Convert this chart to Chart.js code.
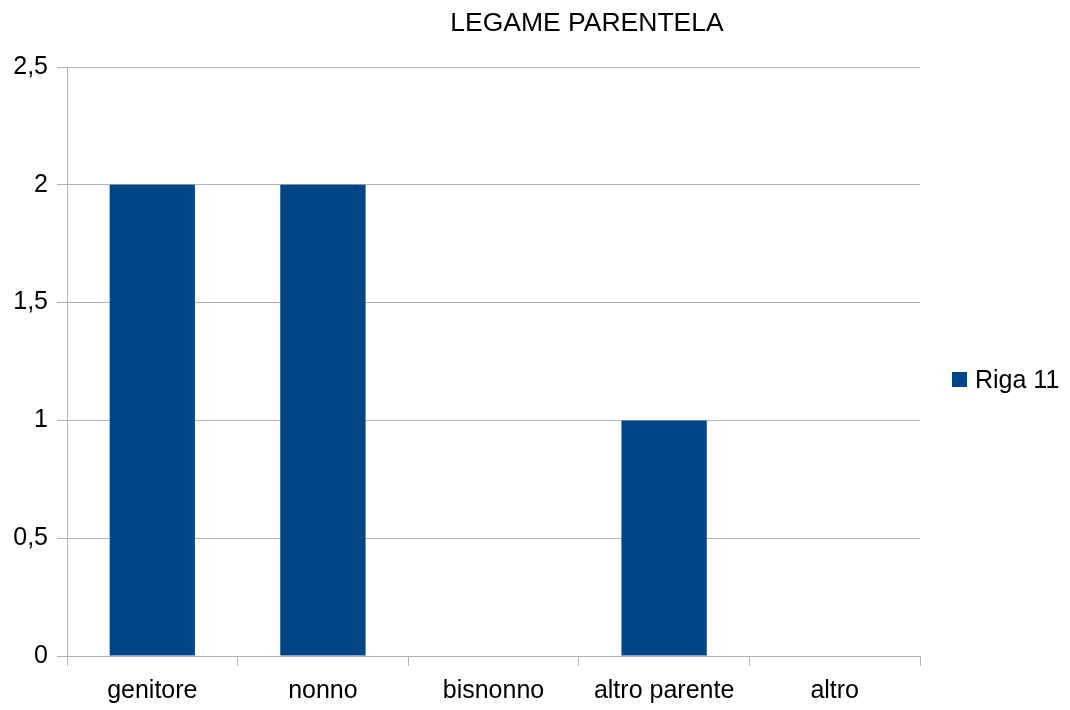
<!DOCTYPE html>
<html>
<head>
<meta charset="utf-8">
<script src="https://cdn.jsdelivr.net/npm/chart.js@4"></script>
<style>
    html, body { margin: 0; padding: 0; background: #ffffff; }
    canvas { display: block; }
</style>
</head>
<body>
<canvas id="chart" width="1070" height="710"></canvas>
<script>
const categories = ['genitore', 'nonno', 'bisnonno', 'altro parente', 'altro'];
const seriesName = 'Riga 11';
const seriesValues = [2, 2, 0, 1, 0];
const titleText = 'LEGAME PARENTELA';

const barColor = '#004586';
const gridColor = '#b3b3b3';
const font = 'Liberation Sans, Arial, sans-serif';
const fontSize = 25;

// titolo e legenda disegnati a mano per avere le posizioni giuste
const decorations = {
    id: 'decorations',
    afterDraw(chart) {
        const ctx = chart.ctx;
        ctx.save();
        ctx.fillStyle = '#000000';
        ctx.font = '26.5px ' + font;
        ctx.textAlign = 'center';
        ctx.textBaseline = 'middle';
        ctx.fillText(titleText, 587, 24);

        const ds = chart.data.datasets[0];
        ctx.fillStyle = ds.backgroundColor;
        ctx.fillRect(952, 372, 15, 15);
        ctx.fillStyle = '#000000';
        ctx.font = fontSize + 'px ' + font;
        ctx.textAlign = 'left';
        ctx.fillText(ds.label, 975, 381);
        ctx.restore();
    }
};

new Chart(document.getElementById('chart').getContext('2d'), {
    type: 'bar',
    data: {
        labels: categories,
        datasets: [{
            label: seriesName,
            data: seriesValues,
            backgroundColor: barColor,
            borderWidth: 0,
            barPercentage: 0.5,
            categoryPercentage: 1
        }]
    },
    options: {
        responsive: false,
        animation: false,
        layout: {
            padding: { left: 0, top: 67, right: 150, bottom: 0 }
        },
        plugins: {
            legend: { display: false },
            title: { display: false },
            tooltip: { enabled: false }
        },
        scales: {
            x: {
                offset: true,
                grid: {
                    offset: true,
                    drawOnChartArea: true,
                    color: (c) => (c.index === categories.length ? gridColor : 'rgba(0,0,0,0)'),
                    tickColor: gridColor,
                    tickLength: 10,
                    lineWidth: 1
                },
                border: { display: true, color: gridColor },
                ticks: {
                    color: '#000000',
                    font: { family: font, size: fontSize },
                    padding: 10,
                    maxRotation: 0
                },
                afterFit(scale) { scale.height = 54; }
            },
            y: {
                min: 0,
                max: 2.5,
                grid: {
                    color: gridColor,
                    tickColor: gridColor,
                    tickLength: 10,
                    lineWidth: 1
                },
                border: { display: true, color: gridColor },
                ticks: {
                    stepSize: 0.5,
                    color: '#000000',
                    font: { family: font, size: fontSize },
                    padding: 9,
                    callback: (v) => String(v).replace('.', ',')
                },
                afterFit(scale) { scale.width = 67; }
            }
        }
    },
    plugins: [decorations]
});
</script>
</body>
</html>
